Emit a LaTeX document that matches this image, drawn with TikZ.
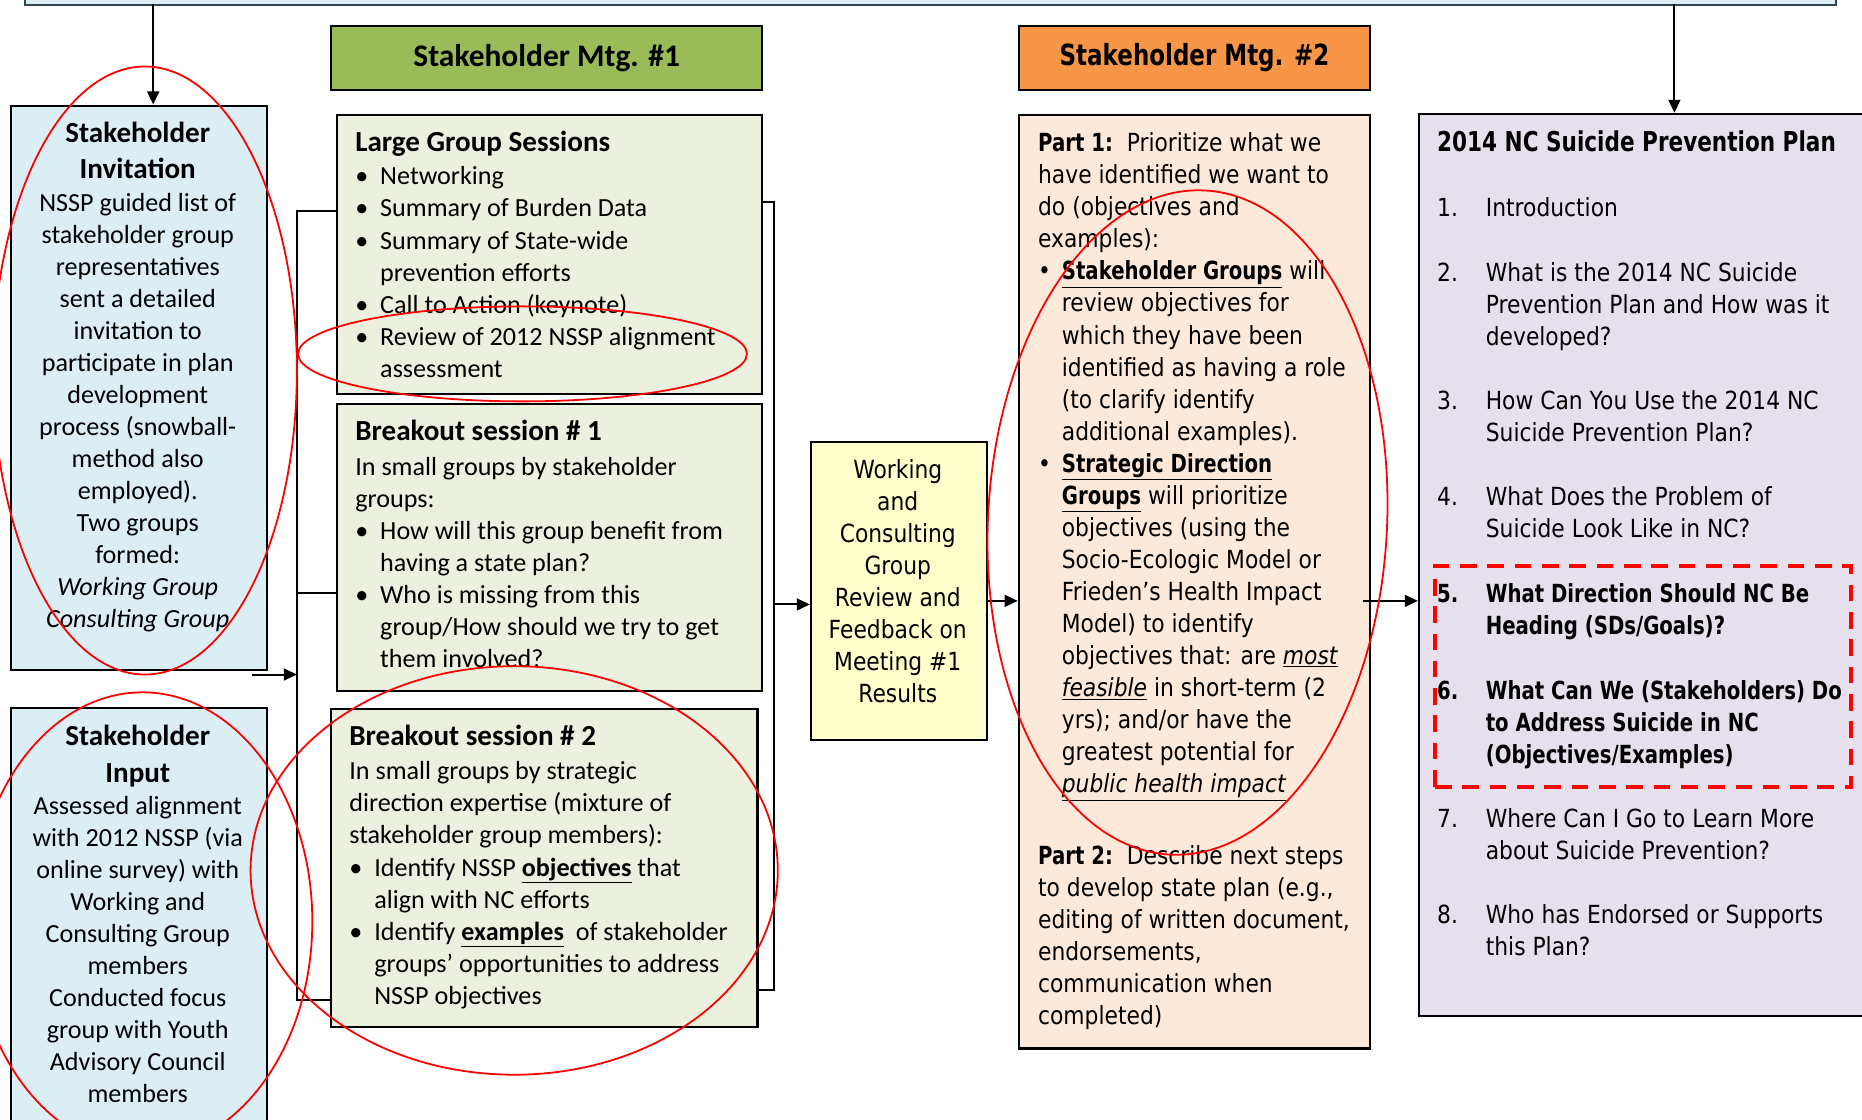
\documentclass[tikz,border=0pt]{standalone}
\usepackage{fontspec}
\setmainfont{Carlito}
\newfontfamily\tah{DejaVu Sans}[UprightFeatures={FakeStretch=0.875},
  ItalicFeatures={FakeStretch=0.875}, BoldFeatures={FakeStretch=0.79},
  BoldItalicFeatures={FakeStretch=0.79}]
\usetikzlibrary{arrows.meta}

\definecolor{skyfill}{HTML}{DAEEF3}
\definecolor{sagefill}{HTML}{EBF1DE}
\definecolor{olivehead}{HTML}{9BBB59}
\definecolor{orangehead}{HTML}{F79646}
\definecolor{creamfill}{HTML}{FFFFCC}
\definecolor{peachfill}{HTML}{FDE9D9}
\definecolor{lavfill}{HTML}{E5E0EC}
\definecolor{topedge}{HTML}{31474F}

% bullets and hanging indents
\newcommand\bulA{\hbox to 21pt{\textbullet\hss}}
\newcommand\indA{\hbox to 21pt{}}
\newcommand\bulB{\hbox to 20pt{\textbullet\hss}}
\newcommand\indB{\hbox to 20pt{}}
\newcommand\numC[1]{\hbox to 41pt{#1\hss}}
\newcommand\ttl{\fontsize{24.5}{27}\selectfont\bfseries}

\begin{document}
\begin{tikzpicture}[x=1pt,y=-1pt,
  box/.style={draw=black, line width=1.8pt, rectangle, inner sep=0pt, anchor=north west},
  conn/.style={line width=1.7pt},
  arr/.style={line width=1.7pt, -{Triangle[length=11pt,width=10pt]}},
  ring/.style={draw=red, line width=1.5pt},
  txt/.style={inner sep=0pt, align=left, anchor=north west, font=\fontsize{22}{27}\selectfont},
  ctxt/.style={inner sep=0pt, align=center, anchor=north, font=\fontsize{22}{27}\selectfont},
  ttxt/.style={inner sep=0pt, align=left, anchor=north west, font=\tah\fontsize{21}{27}\selectfont},
  cttxt/.style={inner sep=0pt, align=center, anchor=north, font=\tah\fontsize{21}{27}\selectfont}]

\fill[white] (0,0) rectangle (1568,943);
\useasboundingbox (0,0) rectangle (1568,943);
\clip (0,0) rectangle (1568,943);

% boxes
\node[box, draw=topedge, fill=skyfill, minimum width=1525pt, minimum height=33pt] (top) at (20,-30) {};
\node[box, fill=skyfill, minimum width=216pt, minimum height=475pt] (inv) at (8,88) {};
\node[box, fill=skyfill, minimum width=216pt, minimum height=370pt] (inp) at (8,595) {};
\node[box, fill=olivehead, minimum width=363pt, minimum height=54pt,
      font=\fontsize{26.5}{30}\selectfont\bfseries] (h1) at (278,21) {Stakeholder Mtg. \#1};
\node[box, fill=orangehead, minimum width=296pt, minimum height=54pt,
      font=\tah\fontsize{24.5}{28}\selectfont\bfseries] (h2) at (857,21) {Stakeholder Mtg. \#2};
\node[box, fill=sagefill, minimum width=358pt, minimum height=235pt] (lg) at (283,96) {};
\node[box, fill=sagefill, minimum width=358pt, minimum height=242pt] (b1) at (283,339) {};
\node[box, fill=sagefill, minimum width=359pt, minimum height=268pt] (b2) at (278,596) {};
\node[box, fill=creamfill, minimum width=148pt, minimum height=251pt] (work) at (682,371) {};
\node[box, fill=peachfill, minimum width=296pt, minimum height=786pt] (part) at (857,96) {};
\node[box, fill=lavfill, minimum width=396pt, minimum height=760pt] (plan) at (1194,95) {};

% connectors
\coordinate (t1) at (129,3);
\coordinate (t2) at (1410,3);
\draw[arr] (t1) -- (t1 |- inv.north);
\draw[arr] (t2) -- (t2 |- plan.north);

\coordinate (lb1) at (250,178);
\coordinate (lb2) at (250,499);
\coordinate (lb3) at (250,842);
\draw[conn] (lg.west |- lb1) -- (lb1) -- (lb3) -- (b2.west |- lb3);
\draw[conn] (lb2) -- (b1.west |- lb2);
\coordinate (ia) at (212,568);
\draw[arr] (ia) -- (ia -| lb1);

\coordinate (rb1) at (652,170);
\coordinate (rb2) at (652,834);
\coordinate (rb3) at (652,509);
\draw[conn] (lg.east |- rb1) -- (rb1) -- (rb2) -- (b2.east |- rb2);
\draw[arr] (rb3) -- (work.west |- rb3);

\coordinate (wp) at (830,506);
\draw[arr] (work.east |- wp) -- (part.west |- wp);
\coordinate (pp) at (1148,506);
\draw[arr] (pp) -- (plan.west |- pp);

% texts
\node[ctxt] (invt) at (116,100.6) {\strut{\ttl Stakeholder}\\[4pt]{\ttl Invitation}\\
  NSSP guided list of\\ stakeholder group\\ representatives\\ sent a detailed\\
  invitation to\\ participate in plan\\ development\\ process (snowball-\\
  method also\\ employed).\\ Two groups\\ formed:\\ \textit{Working Group}\\
  \textit{Consulting Group}};

\node[ctxt] (inpt) at (116,608.6) {\strut{\ttl Stakeholder}\\[4pt]{\ttl Input}\\
  Assessed alignment\\ with 2012 NSSP (via\\ online survey) with\\ Working and\\
  Consulting Group\\ members\\ Conducted focus\\ group with Youth\\
  Advisory Council\\ members};

\node[txt] (lgt) at (299,108.6) {\strut{\ttl Large Group Sessions}\\[1pt]
  \bulA Networking\\ \bulA Summary of Burden Data\\ \bulA Summary of State-wide\\
  \indA prevention efforts\\ \bulA Call to Action (keynote)\\
  \bulA Review of 2012 NSSP alignment\\ \indA assessment};

\node[txt] (b1t) at (299,352) {\strut{\ttl Breakout session \# 1}\\[2pt]
  In small groups by stakeholder\\ groups:\\
  \bulA How will this group benefit from\\ \indA having a state plan?\\
  \bulA Who is missing from this\\ \indA group/How should we try to get\\
  \indA them involved?};

\node[txt] (b2t) at (294,608.6) {\strut{\ttl Breakout session \# 2}\\[2pt]
  In small groups by strategic\\ direction expertise (mixture of\\
  stakeholder group members):\\
  \bulA Identify NSSP \underline{\textbf{objectives}} that\\ \indA align with NC efforts\\
  \bulA Identify \underline{\textbf{examples}}\ \ of stakeholder\\
  \indA groups’ opportunities to address\\ \indA NSSP objectives};

\node[cttxt] (workt) at (756,383.6) {\strut Working\\ and\\ Consulting\\ Group\\
  Review and\\ Feedback on\\ Meeting \#1\\ Results};

\node[ttxt] (partt) at (874,108.6) {\strut\textbf{Part 1:}\ \ Prioritize what we\\
  have identified we want to\\ do (objectives and\\ examples):\\
  \bulB\underline{\textbf{Stakeholder Groups}} will\\ \indB review objectives for\\
  \indB which they have been\\ \indB identified as having a role\\
  \indB (to clarify identify\\ \indB additional examples).\\
  \bulB\underline{\textbf{Strategic Direction}}\\ \indB\underline{\textbf{Groups}} will prioritize\\
  \indB objectives (using the\\ \indB Socio-Ecologic Model or\\
  \indB Frieden’s Health Impact\\ \indB Model) to identify\\
  \indB objectives that: are \underline{\textit{most}}\\
  \indB\underline{\textit{feasible}} in short-term (2\\ \indB yrs); and/or have the\\
  \indB greatest potential for\\ \indB\underline{\textit{public health impact}}\\[33pt]
  \textbf{Part 2:}\ \ Describe next steps\\ to develop state plan (e.g.,\\
  editing of written document,\\ endorsements,\\ communication when\\ completed)};

\node[ttxt] (plant) at (1210,108.6) {\strut{\fontsize{23}{27}\selectfont\textbf{2014 NC Suicide Prevention Plan}}\\[28pt]
  \numC{1.}Introduction\\[27pt]
  \numC{2.}What is the 2014 NC Suicide\\ \numC{}Prevention Plan and How was it\\
  \numC{}developed?\\[27pt]
  \numC{3.}How Can You Use the 2014 NC\\ \numC{}Suicide Prevention Plan?\\[27pt]
  \numC{4.}What Does the Problem of\\ \numC{}Suicide Look Like in NC?\\[28pt]
  \textbf{\numC{5.}What Direction Should NC Be}\\ \textbf{\numC{}Heading (SDs/Goals)?}\\[27pt]
  \textbf{\numC{6.}What Can We (Stakeholders) Do}\\ \textbf{\numC{}to Address Suicide in NC}\\
  \textbf{\numC{}(Objectives/Examples)}\\[27pt]
  \numC{7.}Where Can I Go to Learn More\\ \numC{}about Suicide Prevention?\\[27pt]
  \numC{8.}Who has Endorsed or Supports\\ \numC{}this Plan?};

% highlight marks
\node[draw=red, line width=3pt, dash pattern=on 14pt off 9pt, inner sep=0pt,
      anchor=north west, minimum width=350pt, minimum height=186pt] (focus) at (1207,475) {};
\draw[ring] (122,312) ellipse [x radius=128, y radius=256];
\draw[ring] (120,776) ellipse [x radius=143, y radius=193];
\draw[ring] (440,298) ellipse [x radius=189, y radius=40];
\draw[ring] (433,733) ellipse [x radius=222, y radius=172];
\draw[ring, shift={(1000,440)}, rotate=-3] (0,0) ellipse [x radius=168, y radius=280];
\end{tikzpicture}
\end{document}
